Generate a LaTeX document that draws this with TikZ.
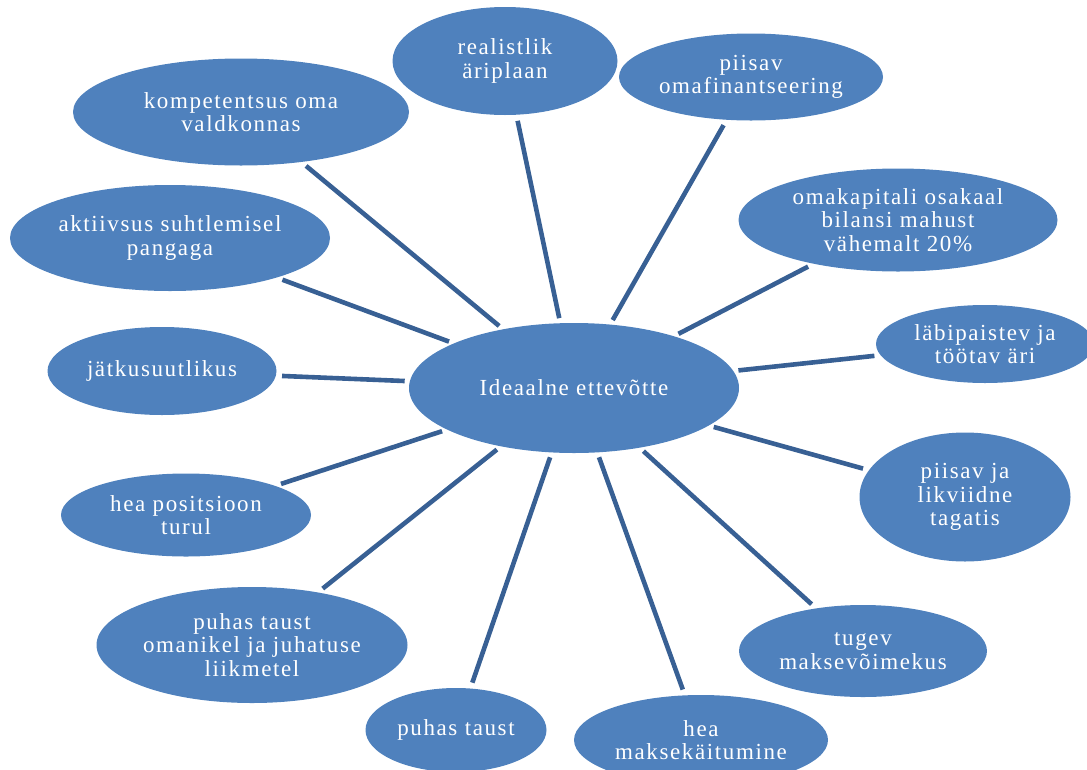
\documentclass[tikz,border=0pt]{standalone}
\usepackage{fontspec}
\setmainfont[LetterSpace=7]{Liberation Serif}
\usetikzlibrary{shapes.geometric}
\definecolor{ovalfill}{RGB}{79,129,189}
\definecolor{linkcol}{RGB}{56,96,148}
\tikzset{
  oval/.style={ellipse, fill=ovalfill, text=white, inner sep=0pt, align=center,
    font=\fontsize{23pt}{23.5pt}\selectfont},
  conn/.style={draw=linkcol, line width=4.6pt, shorten <=5pt, shorten >=6pt}
}
\begin{document}
\begin{tikzpicture}[x=1pt,y=-1pt]
\useasboundingbox (0,0) rectangle (1087,769);
\clip (0,0) rectangle (1087,769);
\node[oval, minimum width=330pt, minimum height=130pt] (hub) at (574,388) {Ideaalne ettevõtte};
\node[oval, minimum width=225pt, minimum height=108pt] (real) at (505,61) {realistlik\\äriplaan};
\node[oval, minimum width=264pt, minimum height=87pt] (omafin) at (751,77) {piisav\\omafinantseering};
\node[oval, minimum width=336pt, minimum height=107pt] (komp) at (241,112) {kompetentsus oma\\valdkonnas};
\node[oval, minimum width=319pt, minimum height=103pt] (omak) at (898,220) {omakapitali osakaal\\bilansi mahust\\vähemalt 20\%};
\node[oval, minimum width=320pt, minimum height=106pt] (akt) at (170,238) {aktiivsus suhtlemisel\\pangaga};
\node[oval, minimum width=218pt, minimum height=78pt] (labi) at (985,344) {läbipaistev ja\\töötav äri};
\node[oval, minimum width=229pt, minimum height=88pt] (jatk) at (162,371) {jätkusuutlikus};
\node[oval, minimum width=211pt, minimum height=129pt] (tag) at (965,497) {piisav ja\\likviidne\\tagatis};
\node[oval, minimum width=250pt, minimum height=83pt] (pos) at (186,515) {hea positsioon\\turul};
\node[oval, minimum width=248pt, minimum height=92pt] (tugev) at (863,651) {tugev\\maksevõimekus};
\node[oval, minimum width=311pt, minimum height=116pt] (oman) at (252,645) {puhas taust\\omanikel ja juhatuse\\liikmetel};
\node[oval, minimum width=181pt, minimum height=84pt] (puhas) at (456,730) {puhas taust};
\node[oval, minimum width=254pt, minimum height=90pt] (maks) at (701,740) {hea\\maksekäitumine};
\foreach \n in {real,omafin,komp,omak,akt,labi,jatk,tag,pos,tugev,oman,puhas,maks}
  \draw[conn] (hub) -- (\n);
\end{tikzpicture}
\end{document}
